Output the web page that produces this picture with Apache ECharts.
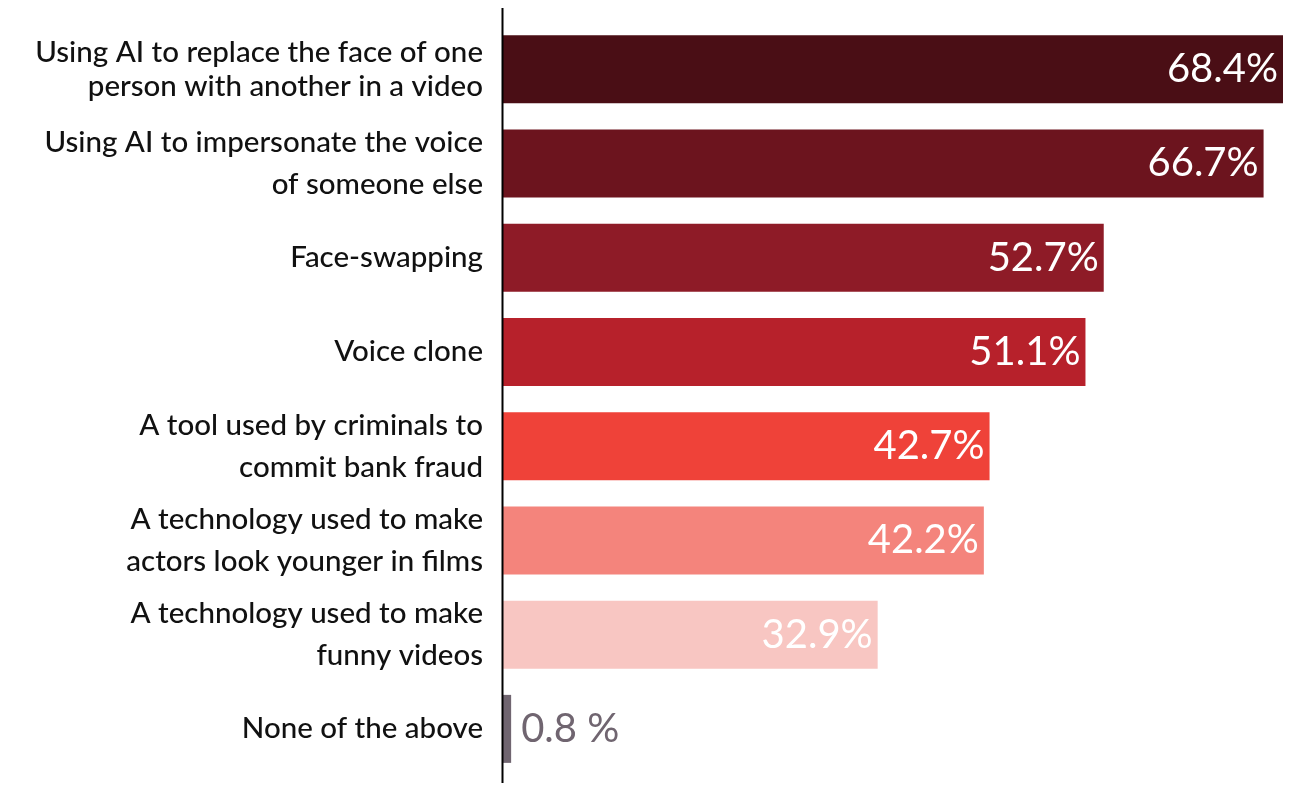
<!DOCTYPE html>
<html>
<head>
<meta charset="utf-8">
<script src="https://cdn.jsdelivr.net/npm/echarts@6/dist/echarts.min.js"></script>
<style>
  html, body { margin: 0; padding: 0; background: #ffffff; }
  #chart { width: 1298px; height: 785px; }
</style>
</head>
<body>
<div id="chart"></div>
<script>
// Perceptions of deepfakes: share of respondents choosing each description
const categories = [
  'Using AI to replace the face of one\nperson with another in a video',
  'Using AI to impersonate the voice\nof someone else',
  'Face-swapping',
  'Voice clone',
  'A tool used by criminals to\ncommit bank fraud',
  'A technology used to make\nactors look younger in films',
  'A technology used to make\nfunny videos',
  'None of the above'
];
const values = [68.4, 66.7, 52.7, 51.1, 42.7, 42.2, 32.9, 0.8];
const valueLabels = ['68.4%', '66.7%', '52.7%', '51.1%', '42.7%', '42.2%', '32.9%', '0.8 %'];
const barColors = ['#4a0e15', '#6c141e', '#8e1b27', '#b7212b', '#ef4239', '#f4847c', '#f8c6c2', '#706570'];

const chart = echarts.init(document.getElementById('chart'), null, { renderer: 'canvas' });

const gridLeft = 502, gridTop = 22, gridRight = 15, gridBottom = 9;

const option = {
  animation: false,
  grid: { left: gridLeft, right: gridRight, top: gridTop, bottom: gridBottom, containLabel: false },
  xAxis: {
    type: 'value',
    min: 0,
    max: 68.4,
    show: false
  },
  yAxis: {
    type: 'category',
    inverse: true,
    data: categories.map((c, i) => ({
      value: c,
      textStyle: { lineHeight: i === 0 ? 34 : 42 }
    })),
    axisLine: { show: false },
    axisTick: { show: false },
    axisLabel: {
      margin: 19,
      align: 'right',
      color: '#111111',
      fontFamily: 'Lato',
      fontWeight: 500,
      fontSize: 29.5,
      lineHeight: 42
    }
  },
  series: [{
    type: 'bar',
    barWidth: 68,
    data: values.map((v, i) => ({
      value: v,
      itemStyle: { color: barColors[i] },
      label: i === values.length - 1
        ? { position: 'right', color: '#706570', distance: 10 }
        : { position: 'insideRight', color: '#ffffff', distance: 5 }
    })),
    label: {
      show: true,
      fontFamily: 'Lato',
      fontSize: 40,
      formatter: p => valueLabels[p.dataIndex]
    }
  }],
  graphic: [{
    type: 'line',
    z: 100,
    shape: { x1: gridLeft + 0.5, y1: 8, x2: gridLeft + 0.5, y2: 783 },
    style: { stroke: '#000000', lineWidth: 2 }
  }]
};

chart.setOption(option);
</script>
</body>
</html>
